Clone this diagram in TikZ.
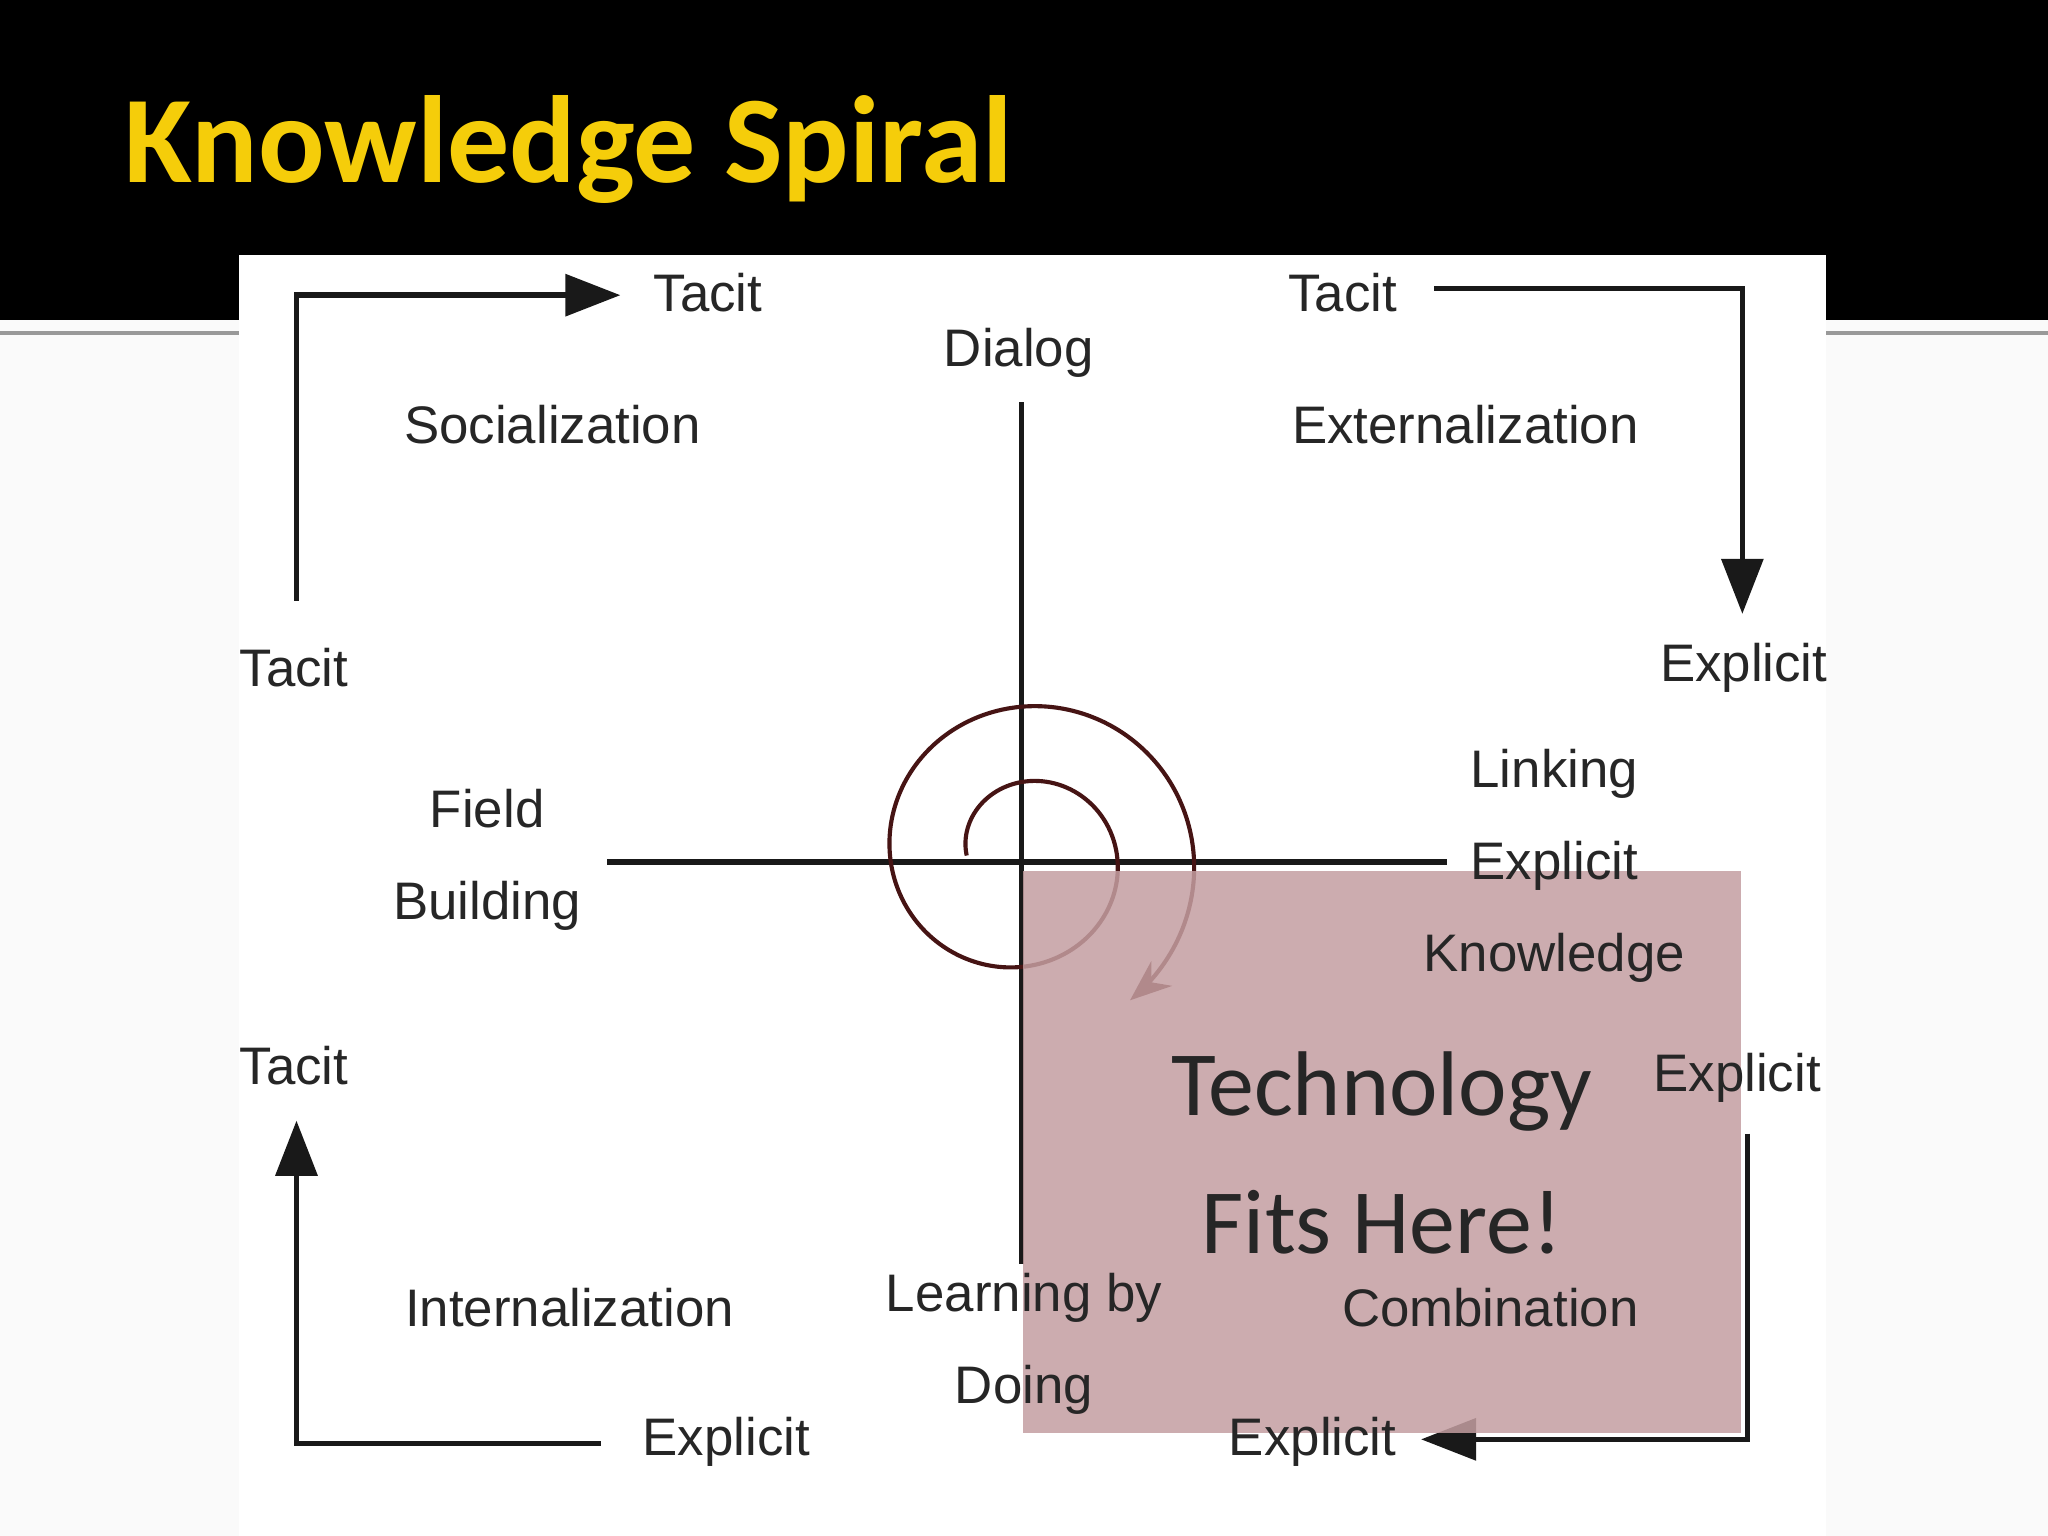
\documentclass[tikz,border=0pt]{standalone}
\usepackage{fontspec}
\setmainfont{Liberation Sans}
\newfontfamily\carlitofont{Carlito}
\usetikzlibrary{arrows.meta}
\definecolor{ttl}{RGB}{245,205,10}
\definecolor{pinkbox}{RGB}{196,158,161}
\definecolor{spir}{RGB}{70,20,20}
\begin{document}
\begin{tikzpicture}[x=0.01cm,y=-0.01cm,
  lbl/.style={font=\fontsize{11.5}{14}\selectfont, text=black!85, align=center, inner sep=0pt},
  ax/.style={line width=1.2pt, black!90},
  arr/.style={line width=1.2pt, black!90, -{Triangle[length=12pt,width=9pt]}}]
\useasboundingbox (0,0) rectangle (1568,1176);
\fill[black!2] (0,0) rectangle (1568,1176);
\fill[black] (0,0) rectangle (1568,245);
\draw[black!40, line width=1pt] (0,255) -- (1568,255);
\fill[white] (183,195) rectangle (1398,1176);
\node[anchor=base west, text=ttl, font=\carlitofont\bfseries\fontsize{27}{30}\selectfont, inner sep=0pt] (title) at (95,140) {Knowledge Spiral};
% axes
\coordinate (vt) at (782,308); \coordinate (vb) at (782,968);
\coordinate (hl) at (465,660); \coordinate (hr) at (1108,660);
\draw[ax] (vt) -- (vb);
\draw[ax] (hl) -- (hr);
% corner arrows
\coordinate (a1) at (227,460); \coordinate (a1c) at (227,226); \coordinate (a1e) at (475,226);
\draw[arr] (a1) -- (a1c) -- (a1e);
\coordinate (a2) at (1098,221); \coordinate (a2c) at (1334,221); \coordinate (a2e) at (1334,470);
\draw[arr] (a2) -- (a2c) -- (a2e);
\coordinate (a3) at (1338,868); \coordinate (a3c) at (1338,1102); \coordinate (a3e) at (1088,1102);
\draw[arr] (a3) -- (a3c) -- (a3e);
\coordinate (a4) at (460,1105); \coordinate (a4c) at (227,1105); \coordinate (a4e) at (227,858);
\draw[arr] (a4) -- (a4c) -- (a4e);
% spiral
\draw[spir, line width=0.9pt, -{Stealth[length=9pt,width=7pt]}]
  plot[domain=180:774, samples=200, smooth] ({783+(42+0.16*(\x-180))*cos(\x)*1.02}, {655+(42+0.16*(\x-180))*sin(\x)});
% pink box
\fill[pinkbox, opacity=0.85] (783,667) rectangle (1333,1097);
% labels
\node[lbl] (t1) at (542,224) {Tacit};
\node[lbl] (t2) at (1028,224) {Tacit};
\node[lbl] (dia) at (780,270) {Dialog};
\node[lbl] (soc) at (423,325) {Socialization};
\node[lbl] (ext) at (1122,325) {Externalization};
\node[lbl] (t3) at (225,511) {Tacit};
\node[lbl] (e1) at (1335,511) {Explicit};
\node[lbl] (fb) at (373,658) {Field\\[6pt]Building};
\node[lbl] (lek) at (1190,663) {Linking\\[6pt]Explicit\\[6pt]Knowledge};
\node[lbl] (t4) at (225,816) {Tacit};
\node[lbl] (e2) at (1330,825) {Explicit};
\node[lbl, font=\carlitofont\fontsize{20}{26}\selectfont] (tech) at (1058,883) {Technology\\[4pt]Fits Here!};
\node[lbl] (int) at (436,1001) {Internalization};
\node[lbl] (lbd) at (784,1029) {Learning by\\[6pt]Doing};
\node[lbl] (comb) at (1141,1001) {Combination};
\node[lbl] (e3) at (556,1104) {Explicit};
\node[lbl] (e4) at (1005,1104) {Explicit};
\end{tikzpicture}
\end{document}
